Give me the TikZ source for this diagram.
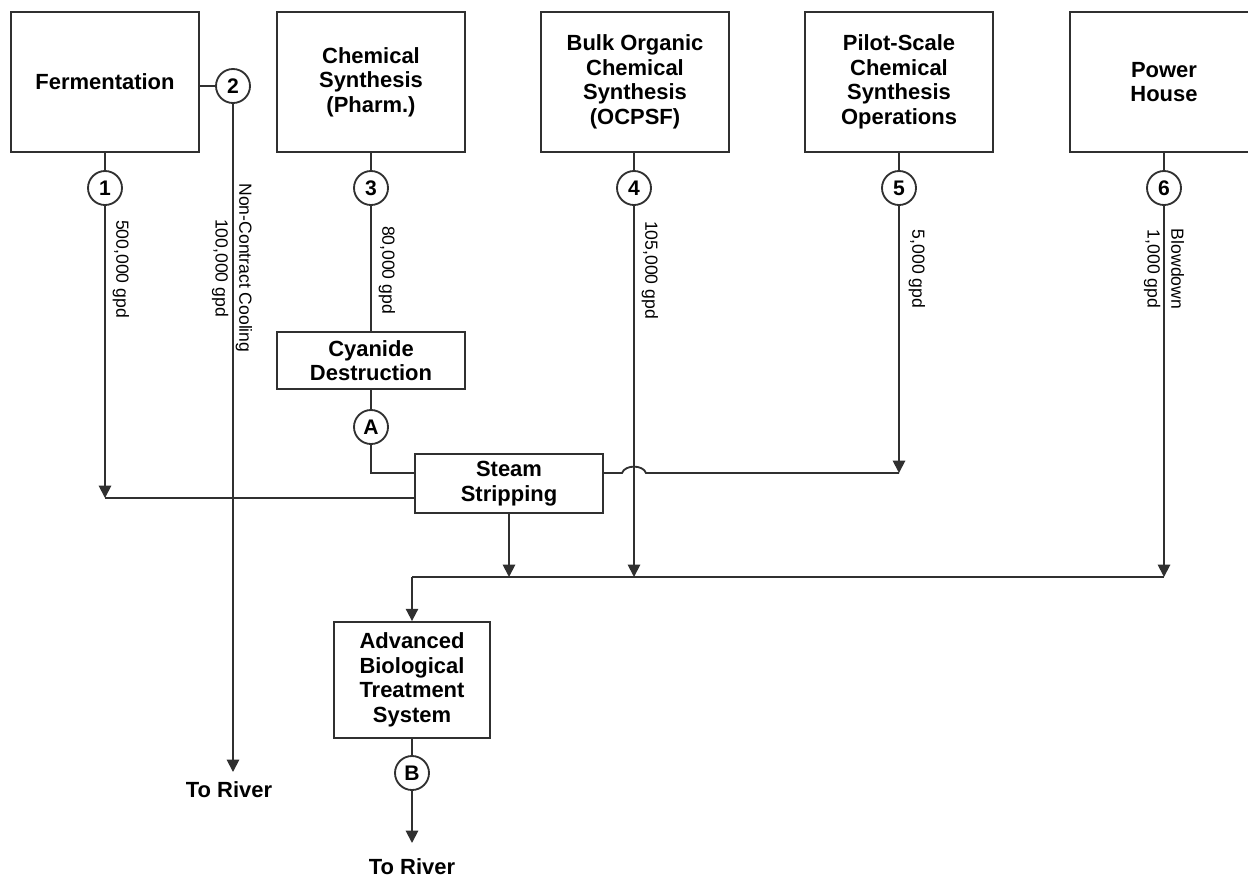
\documentclass[tikz,border=0pt]{standalone}
\usepackage{fontspec}
\setmainfont{Liberation Sans}
\usetikzlibrary{arrows.meta}
\definecolor{ln}{HTML}{303030}
\begin{document}
\begin{tikzpicture}[x=0.02cm,y=-0.02cm,
  color=ln, line width=1.05pt,
  unit/.style={draw=ln,fill=white,text=black,minimum width=3.76cm,minimum height=2.8cm,
    align=center,font=\bfseries\fontsize{12.5}{14}\selectfont,inner sep=2pt},
  smallbox/.style={draw=ln,fill=white,text=black,minimum width=3.76cm,
    align=center,font=\bfseries\fontsize{12.5}{14}\selectfont,inner sep=2pt},
  num/.style={circle,draw=ln,fill=white,text=black,minimum size=0.68cm,inner sep=0pt,
    font=\bfseries\fontsize{12}{13}\selectfont},
  flowlbl/.style={rotate=-90,align=center,text=black,font=\fontsize{10}{12.5}\selectfont,inner sep=0pt},
  river/.style={text=black,font=\bfseries\fontsize{12.5}{14}\selectfont,inner sep=0pt},
  arr/.style={-{Triangle[length=7pt,width=7pt]}}
]
\useasboundingbox (0,0) rectangle (1248,880);

% top units
\node[unit] (ferm)  at (105,82) {Fermentation};
\node[unit] (chem)  at (371,82)   {Chemical\\Synthesis\\(Pharm.)};
\node[unit] (bulk)  at (635,82) {Bulk Organic\\Chemical\\Synthesis\\(OCPSF)};
\node[unit] (pilot) at (899,82) {Pilot-Scale\\Chemical\\Synthesis\\Operations};
\node[unit] (power) at (1164,82) {Power\\House};

% sample points
\node[num] (c1) at (105,188) {1};
\node[num] (c2) at (233,86)   {2};
\node[num] (c3) at (371,188)  {3};
\node[num] (c4) at (634,188)  {4};
\node[num] (c5) at (899,188) {5};
\node[num] (c6) at (1164,188) {6};

% treatment units
\node[smallbox,minimum height=1.14cm] (cyan) at (371,360.5) {Cyanide\\Destruction};
\node[num] (cA) at (371,427) {A};
\node[smallbox,minimum height=1.18cm] (ss) at (509,483.5) {Steam\\Stripping};
\node[unit,minimum width=3.12cm,minimum height=2.32cm] (abts) at (412,680)
  {Advanced\\Biological\\Treatment\\System};
\node[num] (cB) at (412,773) {B};

% rivers
\coordinate (r1) at (233,772);
\node[river] (river1) at (229,790) {To River};
\coordinate (r2) at (412,843);
\node[river] (river2) at (412,867) {To River};

% junctions
\coordinate (j1) at (105,498);
\coordinate (rowA) at (0,473);
\coordinate (j5) at (899,473);
\coordinate (jss) at (509,577);
\coordinate (j4) at (634,577);
\coordinate (j6) at (1164,577);
\coordinate (jL) at (412,577);
\coordinate (h1) at (622,473);
\coordinate (h2) at (646,473);

% flow labels
\node[flowlbl] (l1) at (121,269) {500,000 gpd};
\node[flowlbl] (l2) at (232,268) {Non-Contract Cooling\\[1pt]100,000 gpd};
\node[flowlbl] (l3) at (387,270) {80,000 gpd};
\node[flowlbl] (l4) at (650,270) {105,000 gpd};
\node[flowlbl] (l5) at (917,269) {5,000 gpd};
\node[flowlbl] (l6) at (1164,269) {Blowdown\\[1pt]1,000 gpd};

% connectors
\draw (ferm.east |- c2) -- (c2);
\draw[arr] (c2) -- (r1);
\draw (ferm.south) -- (c1);
\draw[arr] (c1) -- (j1);
\draw (j1) -- (j1 -| ss.west);

\draw (chem.south) -- (c3);
\draw (c3) -- (cyan.north);
\draw (cyan.south) -- (cA);
\draw (cA) |- (ss.west |- rowA);

\draw (pilot.south) -- (c5);
\draw[arr] (c5) -- (j5);
\draw (ss.east |- rowA) -- (h1) .. controls (625,464.5) and (643,464.5) .. (h2) -- (j5);

\draw (bulk.south -| c4) -- (c4);
\draw[arr] (c4) -- (j4);
\draw (power.south) -- (c6);
\draw[arr] (c6) -- (j6);
\draw[arr] (ss.south) -- (jss);
\draw (jL) -- (j6);
\draw[arr] (jL) -- (abts.north);
\draw (abts.south) -- (cB);
\draw[arr] (cB) -- (r2);
\end{tikzpicture}
\end{document}
